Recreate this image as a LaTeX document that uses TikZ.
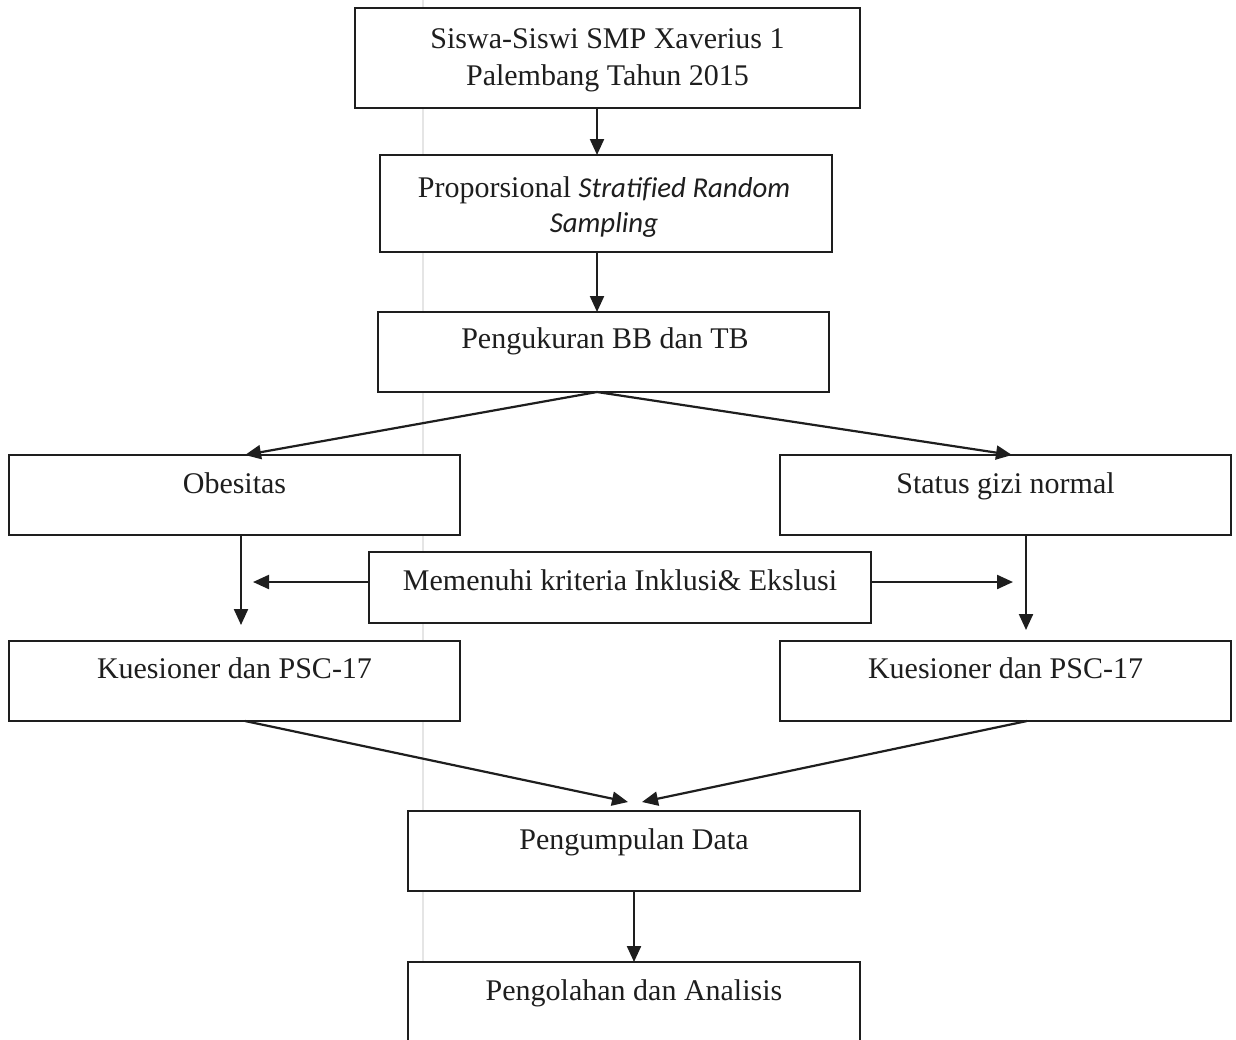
\documentclass[tikz,border=0pt]{standalone}
\usepackage{fontspec}
\setmainfont{Liberation Serif}
\newfontfamily\carlito{Carlito}[Scale=0.96]
\usetikzlibrary{arrows.meta}
\definecolor{ink}{HTML}{1E1E1E}
\tikzset{
  box/.style={draw=ink, line width=1.1pt, rectangle, inner sep=0pt, outer sep=0pt, fill=white},
  txt/.style={anchor=base, inner sep=0pt, text=ink, font=\fontsize{15}{18}\selectfont},
  arr/.style={draw=ink, line width=1.1pt, -{Triangle[length=8pt,width=7pt]}}
}
\begin{document}
\begin{tikzpicture}[x=0.5pt,y=-0.5pt]
\useasboundingbox (0,0) rectangle (1236,1039);
\fill[white] (0,0) rectangle (1236,1039);
% faint scan line
\draw[black!10, line width=0.6pt] (423,0) -- (423,1039);

% boxes
\node[box, minimum width=252.5pt, minimum height=50pt] (b1) at (607.5,58) {};
\node[box, minimum width=226pt, minimum height=48.5pt] (b2) at (606,203.5) {};
\node[box, minimum width=225.5pt, minimum height=40pt] (b3) at (603.5,352) {};
\node[box, minimum width=225.5pt, minimum height=40pt] (ob) at (234.5,495) {};
\node[box, minimum width=225.5pt, minimum height=40pt] (sg) at (1005.5,495) {};
\node[box, minimum width=251pt, minimum height=35.5pt] (mk) at (620,587.5) {};
\node[box, minimum width=225.5pt, minimum height=40pt] (kl) at (234.5,681) {};
\node[box, minimum width=225.5pt, minimum height=40pt] (kr) at (1005.5,681) {};
\node[box, minimum width=226pt, minimum height=40pt] (pd) at (634,851) {};
\node[box, minimum width=226pt, minimum height=49pt] (pa) at (634,1011) {};

% texts
\node[txt] (b1t1) at (607.5,48) {Siswa-Siswi SMP Xaverius 1};
\node[txt] (b1t2) at (607.5,85) {Palembang Tahun 2015};
\node[txt] (b2t1) at (604,197) {Proporsional {\carlito\itshape Stratif\kern0pt ied Random}};
\node[txt] (b2t2) at (604,232) {\carlito\itshape Sampling};
\node[txt] (b3t) at (605,348) {Pengukuran BB dan TB};
\node[txt] (obt) at (234.5,493) {Obesitas};
\node[txt] (sgt) at (1005.5,493) {Status gizi normal};
\node[txt] (mkt) at (620,590) {Memenuhi kriteria Inklusi\& Ekslusi};
\node[txt] (klt) at (234.5,678) {Kuesioner dan PSC-17};
\node[txt] (krt) at (1005.5,678) {Kuesioner dan PSC-17};
\node[txt] (pdt) at (634,849) {Pengumpulan Data};
\node[txt] (pat) at (634,1000) {Pengolahan dan Analisis};

% helper coordinates
\coordinate (cx) at (597,0);
\coordinate (cL) at (245,0);
\coordinate (cR) at (1012,0);
\coordinate (cLv) at (241,0);
\coordinate (cRv) at (1026,0);
\coordinate (tipL) at (253,582);
\coordinate (tipR) at (1013,582);
\coordinate (tipA) at (628,802);
\coordinate (tipB) at (642,802);
\coordinate (startA) at (245,721);
\coordinate (startB) at (1027,721);

% connectors
\draw[arr] (b1.south -| cx) -- (b2.north -| cx);
\draw[arr] (b2.south -| cx) -- (b3.north -| cx);
\draw[arr] (b3.south -| cx) -- (ob.north -| cL);
\draw[arr] (b3.south -| cx) -- (sg.north -| cR);
\draw[arr, shorten >=8pt] (ob.south -| cLv) -- (kl.north -| cLv);
\draw[arr, shorten >=5.5pt] (sg.south -| cRv) -- (kr.north -| cRv);
\draw[arr] (mk.west |- tipL) -- (tipL);
\draw[arr] (mk.east |- tipR) -- (tipR);
\draw[arr] (kl.south -| startA) -- (tipA);
\draw[arr] (kr.south -| startB) -- (tipB);
\draw[arr] (pd.south) -- (pa.north);
\end{tikzpicture}
\end{document}
